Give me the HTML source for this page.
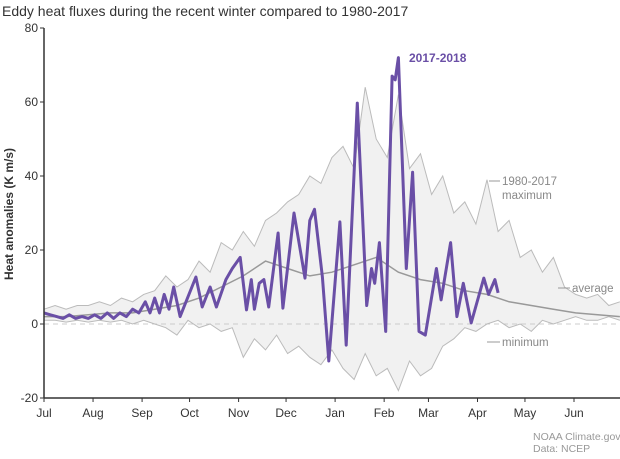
<!DOCTYPE html>
<html><head><meta charset="utf-8"><style>
body{margin:0;background:#fff;width:620px;height:454px;overflow:hidden;font-family:"Liberation Sans","DejaVu Sans",sans-serif}
svg text{font-family:"Liberation Sans","DejaVu Sans",sans-serif}
</style></head><body>
<svg id="chart" width="620" height="454">
<text x="2" y="16" font-size="14" fill="#333">Eddy heat fluxes during the recent winter compared to 1980-2017</text>
<text transform="translate(13,214) rotate(-90)" text-anchor="middle" font-size="12" font-weight="bold" fill="#333">Heat anomalies (K m/s)</text>
<g id="plot"></g>
<g id="axes"></g>
<text x="409" y="62" font-size="12" font-weight="bold" fill="#6a4fa6">2017-2018</text>
<line x1="489" y1="181" x2="500" y2="181" stroke="#999" stroke-width="1"/>
<text x="502" y="185" font-size="11.5" fill="#888">1980-2017</text>
<text x="502" y="199" font-size="11.5" fill="#888">maximum</text>
<line x1="558" y1="288" x2="570" y2="288" stroke="#999" stroke-width="1"/>
<text x="572" y="292" font-size="11.5" fill="#888">average</text>
<line x1="487" y1="342" x2="500" y2="342" stroke="#999" stroke-width="1"/>
<text x="502" y="346" font-size="11.5" fill="#888">minimum</text>
<text x="533" y="440" font-size="10.5" fill="#999">NOAA Climate.gov</text>
<text x="533" y="452" font-size="10.5" fill="#999">Data: NCEP</text>
</svg>
<script>
const monthLabels=["Jul","Aug","Sep","Oct","Nov","Dec","Jan","Feb","Mar","Apr","May","Jun"];
const monthStartDays=[0,31,62,92,123,153,184,215,243,274,304,335];
const yTicks=[80,60,40,20,0,-20];
const envDays=[0,7,14,21,28,35,42,49,56,63,70,77,84,91,98,105,112,119,126,133,140,147,154,161,168,175,182,189,196,203,210,217,224,231,238,245,252,259,266,273,280,287,294,301,308,315,322,329,336,343,350,357,364];
const maxValues=[4,5,4,5,5,6,5,7,6,8,9,13,10,12,17,14,22,20,25,21,28,30,33,35,40,38,45,48,42,64,50,45,62,42,46,35,40,30,33,27,39,25,28,18,20,14,18,10,8,7,8,5,6];
const minValues=[1,1,0.5,1,0.5,1,0.5,1,0,1,0,-1,-3,1,-1,0,-2,-1,-9,-4,-7,-3,-8,-6,-9,-11,-7,-12,-15,-8,-14,-12,-18,-10,-14,-12,-6,-4,-1,-2,0,1,-1,0,-2,1,0,1,2,1,1,2,1];
const avgDays=[0,14,28,42,56,70,84,98,112,126,140,154,168,182,196,210,224,238,252,266,280,294,308,322,336,350,364];
const avgValues=[2,2,2.5,3,3,4,5,7,10,13,17,15,13,14,16,18,14,12,11,9,8,6,5,4,3,2.5,2];
const recentDays=[0,4,8,12,16,20,24,28,32,36,40,44,48,52,56,60,64,67,70,73,76,79,82,86,96,100,105,109,115,119,124,128,131,133,136,139,142,148,151,158,165,168,171,176,180,187,191,198,204,207,209,212,216,220,222,224,229,233,237,241,248,251,257,261,265,270,278,281,285,287];
const recentValues=[3,2.5,2,1.5,2.5,1.5,2,1.5,2.5,1.5,3,1.5,3,2,4,3,6,3,7,3,8,4,10,2,12.7,4.6,10,4.6,12,15,18,3.8,12,4,11,12,4.6,24.6,4.3,30,12.4,28,31,12.7,-10,27.6,-5.7,59.7,5,15,11,22,-2,67,66,72,15,41,-2,-3,15,6.5,22,2,11,0.3,12.4,8,12,8.4];

const NS="http://www.w3.org/2000/svg";
const X0=44,X1=574,Y0=324,PXU=3.7;
const xs=d=>X0+d*(X1-X0)/335;
const ys=v=>Y0-v*PXU;
const plot=document.getElementById('plot'),axes=document.getElementById('axes');
function mk(tag,attrs,parent){const e=document.createElementNS(NS,tag);for(const k in attrs)e.setAttribute(k,attrs[k]);parent.appendChild(e);return e;}
function pts(days,vals){return days.map((d,i)=>xs(d).toFixed(1)+","+ys(vals[i]).toFixed(1));}

const band=mk('polygon',{points:pts(envDays,maxValues).concat(pts(envDays,minValues).reverse()).join(' '),fill:'#f1f1f1',stroke:'none'},plot);


const zl=mk('line',{x1:X0,x2:620,y1:ys(0),y2:ys(0),stroke:'#ccc','stroke-dasharray':'5,4','stroke-width':1},plot);


const mx=mk('polyline',{points:pts(envDays,maxValues).join(' '),fill:'none',stroke:'#bbb','stroke-width':1},plot);


const mn=mk('polyline',{points:pts(envDays,minValues).join(' '),fill:'none',stroke:'#bbb','stroke-width':1},plot);


const av=mk('polyline',{points:pts(avgDays,avgValues).join(' '),fill:'none',stroke:'#999','stroke-width':1.5},plot);


const rc=mk('polyline',{points:pts(recentDays,recentValues).join(' '),fill:'none',stroke:'#6a4fa6','stroke-width':3,'stroke-linejoin':'round'},plot);



const ya=mk('line',{x1:X0,x2:X0,y1:ys(80),y2:ys(-20),stroke:'#333','stroke-width':1.5},axes);


const xa=mk('line',{x1:X0,x2:620,y1:ys(-20),y2:ys(-20),stroke:'#333','stroke-width':1.5},axes);


yTicks.forEach(v=>{
  const t=mk('line',{x1:X0-4,x2:X0,y1:ys(v),y2:ys(v),stroke:'#333'},axes);
  
  
  const l=mk('text',{x:X0-6,y:ys(v)+4,'text-anchor':'end','font-size':12,fill:'#333'},axes);
  l.textContent=v;
  
  
});
monthLabels.forEach((m,i)=>{
  const x=xs(monthStartDays[i]);
  const t=mk('line',{x1:x,x2:x,y1:ys(-20),y2:ys(-20)+4,stroke:'#333'},axes);
  
  
  const l=mk('text',{x:x,y:ys(-20)+19,'text-anchor':'middle','font-size':12,fill:'#333'},axes);
  l.textContent=m;
  
  
});
</script>
</body></html>
